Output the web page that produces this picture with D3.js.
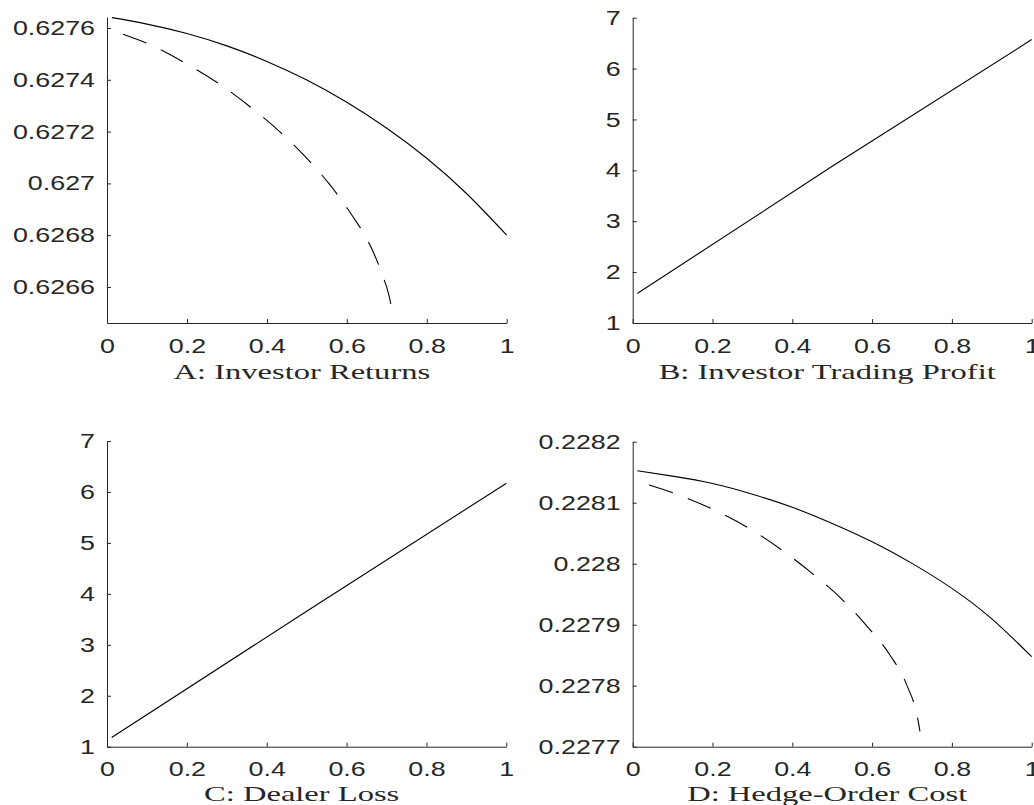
<!DOCTYPE html>
<html><head><meta charset="utf-8">
<script src="https://cdn.jsdelivr.net/npm/d3@7"></script>
<style>body{margin:0;background:#fff} svg{display:block}</style>
</head><body>
<svg id="chart" width="1034" height="805"></svg>
<script>
// ---------- data ----------
const xTicks = [0, 0.2, 0.4, 0.6, 0.8, 1];
const xTickLabels = ["0", "0.2", "0.4", "0.6", "0.8", "1"];
const titles = ["A: Investor Returns", "B: Investor Trading Profit", "C: Dealer Loss", "D: Hedge-Order Cost"];

const yTicksA = [0.6266, 0.6268, 0.627, 0.6272, 0.6274, 0.6276];
const yTickLabelsA = ["0.6266", "0.6268", "0.627", "0.6272", "0.6274", "0.6276"];
const yDomainA = [0.626461, 0.6276425];
const aSolidX = [0.0125, 0.1, 0.2, 0.3, 0.4, 0.5, 0.6, 0.7, 0.8, 0.9, 1.0];
const aSolidY = [0.62764, 0.627615, 0.627579, 0.627531, 0.627471, 0.627399, 0.627313, 0.627213, 0.627097, 0.62696, 0.6268];
const aDashX = [0.04, 0.1, 0.194, 0.279, 0.358, 0.432, 0.496, 0.558, 0.6125, 0.658, 0.6875, 0.704, 0.7125];
const aDashY = [0.627576, 0.627541, 0.627466, 0.627386, 0.627296, 0.6272, 0.627103, 0.626994, 0.626878, 0.626762, 0.626653, 0.626576, 0.626518];

const yTicksB = [1, 2, 3, 4, 5, 6, 7];
const yTickLabelsB = ["1", "2", "3", "4", "5", "6", "7"];
const yDomainB = [1, 7];
const bX = [0.0116, 0.5, 1.0];
const bY = [1.58, 4.08, 6.57];

const yTicksC = [1, 2, 3, 4, 5, 6, 7];
const yTickLabelsC = ["1", "2", "3", "4", "5", "6", "7"];
const yDomainC = [1, 7];
const cX = [0.0117, 0.5, 1.0];
const cY = [1.18, 3.66, 6.17];

const yTicksD = [0.2277, 0.2278, 0.2279, 0.228, 0.2281, 0.2282];
const yTickLabelsD = ["0.2277", "0.2278", "0.2279", "0.228", "0.2281", "0.2282"];
const yDomainD = [0.2277, 0.2282];
const dSolidX = [0.0117, 0.1, 0.2, 0.3, 0.4, 0.5, 0.6, 0.7, 0.8, 0.9, 1.0];
const dSolidY = [0.2281525, 0.2281435, 0.2281315, 0.228114, 0.2280925, 0.228066, 0.228036, 0.2280005, 0.2279595, 0.2279095, 0.2278475];
const dDashX = [0.041, 0.105, 0.2013, 0.2916, 0.3734, 0.452, 0.524, 0.588, 0.645, 0.687, 0.7134, 0.72];
const dDashY = [0.228129, 0.2281153, 0.228089, 0.228058, 0.2280224, 0.227983, 0.227942, 0.227897, 0.22785, 0.227801, 0.227749, 0.227725];

// ---------- layout ----------
const layout = [
  {left: 107, right: 506.7, top: 17, bottom: 323, titleDy: 56},
  {left: 632.7, right: 1031.7, top: 17.7, bottom: 323, titleDy: 56},
  {left: 107, right: 506.3, top: 441, bottom: 746.7, titleDy: 54},
  {left: 632.7, right: 1031.7, top: 441.7, bottom: 746.7, titleDy: 54}
];

const panels = [
  {yTicks: yTicksA, yLabels: yTickLabelsA, yDomain: yDomainA,
   series: [{x: aSolidX, y: aSolidY, dash: null}, {x: aDashX, y: aDashY, dash: "25,16"}]},
  {yTicks: yTicksB, yLabels: yTickLabelsB, yDomain: yDomainB,
   series: [{x: bX, y: bY, dash: null}]},
  {yTicks: yTicksC, yLabels: yTickLabelsC, yDomain: yDomainC,
   series: [{x: cX, y: cY, dash: null}]},
  {yTicks: yTicksD, yLabels: yTickLabelsD, yDomain: yDomainD,
   series: [{x: dSolidX, y: dSolidY, dash: null}, {x: dDashX, y: dDashY, dash: "25,16"}]}
];

const svg = d3.select("#chart");
const axisColor = "#262626";
const tickFont = "'Liberation Sans', Arial, Helvetica, sans-serif";
const titleFont = "'Liberation Serif', 'Times New Roman', serif";
const tickStretch = 1.31, titleStretch = 1.55;

panels.forEach((p, i) => {
  const L = layout[i];
  const x = d3.scaleLinear().domain([0, 1]).range([L.left, L.right]);
  const y = d3.scaleLinear().domain(p.yDomain).range([L.bottom, L.top]);
  const g = svg.append("g");

  const gx = g.append("g").attr("transform", `translate(0,${L.bottom})`)
    .call(d3.axisBottom(x).tickValues(xTicks).tickFormat((d, k) => xTickLabels[k])
      .tickSizeInner(-4).tickSizeOuter(0).tickPadding(15));
  const gy = g.append("g").attr("transform", `translate(${L.left},0)`)
    .call(d3.axisLeft(y).tickValues(p.yTicks).tickFormat((d, k) => p.yLabels[k])
      .tickSizeInner(-4).tickSizeOuter(0).tickPadding(12));

  [gx, gy].forEach(a => {
    a.select(".domain").attr("stroke", axisColor).attr("stroke-width", 1);
    a.selectAll(".tick line").attr("stroke", axisColor).attr("stroke-width", 1);
    a.selectAll(".tick text").attr("fill", axisColor)
      .style("font-family", tickFont).style("font-size", "20.5px");
  });
  gx.selectAll(".tick text").attr("transform", `scale(${tickStretch},1)`);
  gy.selectAll(".tick text").attr("x", 0)
    .attr("transform", `translate(-12,0) scale(${tickStretch},1)`);

  p.series.forEach(s => {
    const line = d3.line().x(d => x(d[0])).y(d => y(d[1]))
      .curve(s.dash ? d3.curveMonotoneX : d3.curveNatural);
    const pts = s.x.map((v, k) => [v, s.y[k]]);
    g.append("path").datum(pts).attr("d", line)
      .attr("fill", "none").attr("stroke", "#000").attr("stroke-width", 1.1)
      .attr("stroke-dasharray", s.dash);
  });

  const cx = (L.left + L.right) / 2 - 5;
  g.append("text").attr("transform", `translate(${cx},${L.bottom + L.titleDy}) scale(${titleStretch},1)`)
    .attr("text-anchor", "middle").attr("fill", axisColor)
    .style("font-family", titleFont).style("font-size", "21px")
    .text(titles[i]);
});
</script>
</body></html>
